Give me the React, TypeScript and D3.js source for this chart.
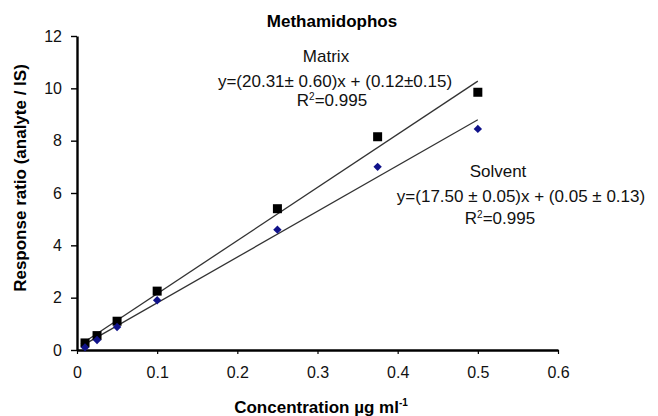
import * as d3 from 'd3';
import { useEffect, useRef } from 'react';

const concentrations = [0.01, 0.025, 0.05, 0.1, 0.25, 0.375, 0.5];
const matrixValues = [0.27, 0.55, 1.1, 2.25, 5.4, 8.15, 9.85];
const solventValues = [0.1, 0.38, 0.88, 1.9, 4.6, 7.0, 8.45];
const xTicks = [0, 0.1, 0.2, 0.3, 0.4, 0.5, 0.6];
const yTicks = [0, 2, 4, 6, 8, 10, 12];
// fitted lines: [slope, intercept]
const matrixFit = [20.31, 0.12];
const solventFit = [17.5, 0.05];
const fitRange = [0.005, 0.5];

export default function App() {
    const ref = useRef<SVGSVGElement>(null);

    useEffect(() => {
        drawChart();
    }, []);

    function drawChart() {
        const svg = d3.select(ref.current);
        svg.selectAll('*').remove();

        const font = 'Liberation Sans, Arial, sans-serif';
        const x = d3.scaleLinear().domain([0, 0.6]).range([77, 558]);
        const y = d3.scaleLinear().domain([0, 12]).range([350, 36]);

        // title
        svg.append('text')
            .attr('x', 332).attr('y', 27)
            .attr('text-anchor', 'middle')
            .style('font', `bold 17px ${font}`)
            .text('Methamidophos');

        // axes
        const xAxis = svg.append('g')
            .attr('transform', 'translate(0,' + y(0) + ')')
            .call(d3.axisBottom(x).tickValues(xTicks).tickSize(4).tickSizeOuter(0).tickPadding(13)
                .tickFormat(d => String(d)));
        xAxis.select('.domain').attr('stroke-width', 2.4);
        xAxis.selectAll('.tick line').attr('stroke-width', 1.2);
        xAxis.selectAll('text').style('font', `16px ${font}`).attr('fill', '#111');

        const yAxis = svg.append('g')
            .attr('transform', 'translate(' + x(0) + ',0)')
            .call(d3.axisLeft(y).tickValues(yTicks).tickSize(6).tickSizeOuter(0).tickPadding(9));
        yAxis.select('.domain').attr('stroke-width', 2.4);
        yAxis.selectAll('.tick line').attr('stroke-width', 1.4);
        yAxis.selectAll('text').style('font', `16px ${font}`).attr('fill', '#111');

        // axis labels
        svg.append('text')
            .attr('transform', 'translate(26,178) rotate(-90)')
            .attr('text-anchor', 'middle')
            .style('font', `bold 17px ${font}`)
            .text('Response ratio (analyte / IS)');

        const xl = svg.append('text')
            .attr('x', 321).attr('y', 413)
            .attr('text-anchor', 'middle')
            .style('font', `bold 17px ${font}`);
        xl.append('tspan').text('Concentration µg ml');
        xl.append('tspan').attr('dy', -7).style('font-size', '10px').text('-1');

        // fit lines
        const line = d3.line<number>().x(d => x(d));
        [matrixFit, solventFit].forEach(f => {
            svg.append('path')
                .datum(fitRange)
                .attr('d', line.y(d => y(f[0] * d + f[1])))
                .attr('fill', 'none')
                .attr('stroke', '#333')
                .attr('stroke-width', 1.3);
        });

        // points
        svg.selectAll('.sq')
            .data(concentrations)
            .enter()
            .append('rect')
            .attr('x', d => x(d) - 4.5)
            .attr('y', (d, i) => y(matrixValues[i]) - 4.5)
            .attr('width', 9).attr('height', 9)
            .attr('fill', '#000');

        svg.selectAll('.dm')
            .data(concentrations)
            .enter()
            .append('path')
            .attr('d', d3.symbol().type(d3.symbolDiamond2).size(45)())
            .attr('transform', (d, i) => 'translate(' + x(d) + ',' + y(solventValues[i]) + ')')
            .attr('fill', '#10128a');

        // annotations
        const ann = (tx: number, ty: number, s: string, sup?: string, rest?: string) => {
            const t = svg.append('text')
                .attr('x', tx).attr('y', ty)
                .attr('text-anchor', 'middle')
                .style('font', `17px ${font}`)
                .attr('fill', '#111');
            t.append('tspan').text(s);
            if (sup) {
                t.append('tspan').attr('dy', -6).style('font-size', '10px').text(sup);
                t.append('tspan').attr('dy', 6).text(rest || '');
            }
        };
        ann(326, 62, 'Matrix');
        ann(335, 87, 'y=(20.31± 0.60)x + (0.12±0.15)');
        ann(332, 106, 'R', '2', '=0.995');
        ann(498, 177, 'Solvent');
        ann(521, 202, 'y=(17.50 ± 0.05)x + (0.05 ± 0.13)');
        ann(500, 224, 'R', '2', '=0.995');
    }

    return (
        <svg ref={ref} width={658} height={416}
            style={{ position: 'absolute', left: 0, top: 0, background: '#fff' }} />
    );
}
